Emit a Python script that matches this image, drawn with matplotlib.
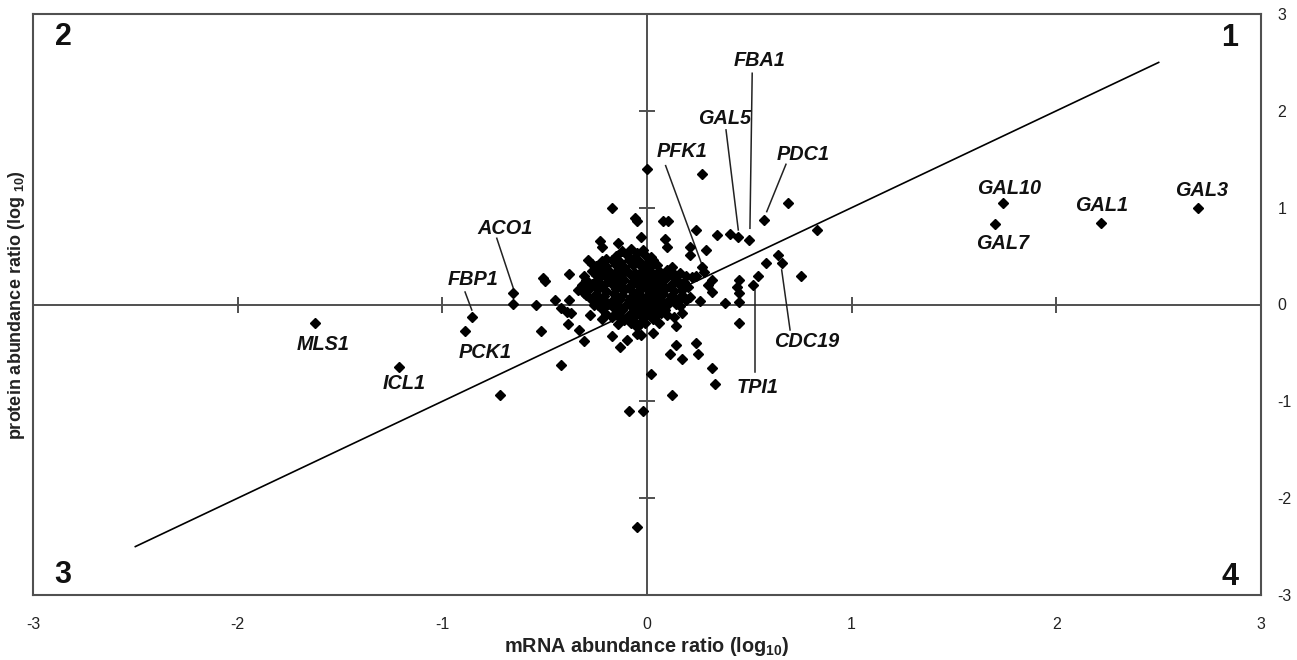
import matplotlib
matplotlib.use('Agg')
import matplotlib.pyplot as plt

plt.rcParams['font.family'] = ['Liberation Sans', 'DejaVu Sans']
plt.rcParams['axes.unicode_minus'] = False
plt.rcParams['mathtext.fontset'] = 'custom'
plt.rcParams['mathtext.rm'] = 'Liberation Sans:bold'
plt.rcParams['mathtext.it'] = 'Liberation Sans:bold:italic'
plt.rcParams['mathtext.bf'] = 'Liberation Sans:bold'

# ---- data: log10 ratios (mRNA, protein) ----
mrna = [0.00, 0.27, -0.17, 0.69, -0.06, -0.05, -0.03, 0.08, 0.105, 0.09, 0.10, 0.24, 0.34, 0.405,
        0.446, 0.50, 0.57, 0.83, 0.21, 0.21, 0.29, 0.64, 0.66, 0.58, 0.75, 0.54, 0.52, 0.45, 0.44,
        0.45, 0.38, 0.45, 0.32, 0.30, 0.32, 0.26, 0.27, 0.24, 0.22, 0.45, 0.14, 0.14, 0.11, 0.17,
        0.24, 0.25, 0.32, 0.33, 0.12, 0.02, -0.09, -0.02, -0.05, -0.72, -1.21, -1.62, -0.857, -0.89,
        -0.653, -0.653, -0.54, -0.52, -0.42, -0.31, -0.33, -0.385, -0.51, -0.50, -0.38, -0.31, -0.45,
        -0.38, -0.42, -0.39, -0.37, -0.23, -0.22, -0.14, -0.20, -0.29, -0.27, -0.25, -0.17, -0.17,
        -0.13, -0.10, -0.05, -0.03, 0.03, -0.26, -0.28, 0.10, 0.13, 0.17, 0.16, 0.12, 0.15, -0.11,
        -0.08, -0.05, -0.01, -0.335, -0.31, -0.21, -0.18, 0.28,
        1.74, 1.70, 2.216, 2.69]
protein = [1.40, 1.35, 1.00, 1.05, 0.89, 0.86, 0.70, 0.86, 0.86, 0.68, 0.59, 0.77, 0.72, 0.73,
           0.70, 0.67, 0.87, 0.77, 0.59, 0.51, 0.56, 0.51, 0.43, 0.43, 0.29, 0.29, 0.20, 0.25, 0.18,
           0.03, 0.02, 0.12, 0.25, 0.20, 0.13, 0.04, 0.39, 0.29, 0.28, -0.19, -0.22, -0.42, -0.51, -0.56,
           -0.40, -0.51, -0.66, -0.82, -0.93, -0.72, -1.10, -1.10, -2.30, -0.93, -0.65, -0.19, -0.13, -0.27,
           0.115, 0.01, 0.00, -0.27, -0.62, -0.38, -0.26, -0.20, 0.27, 0.24, 0.31, 0.29, 0.05,
           0.05, -0.04, -0.08, -0.09, 0.66, 0.59, 0.64, 0.47, 0.46, 0.42, 0.40, -0.13, -0.33,
           -0.44, -0.37, -0.30, -0.32, -0.29, -0.01, -0.11, -0.11, -0.13, -0.09, -0.02, 0.29, 0.24, -0.16,
           -0.19, -0.23, -0.19, 0.15, 0.115, 0.05, 0.01, 0.34,
           1.045, 0.83, 0.845, 1.00]

# dense central cluster
core_mrna = [-0.12, -0.08, -0.05, -0.02,
             -0.15, -0.10, -0.06, -0.01, 0.02,
             -0.22, -0.17, -0.13, -0.09, -0.04, 0.00, 0.03,
             -0.20, -0.15, -0.11, -0.07, -0.03, 0.01, 0.05, 0.12,
             -0.27, -0.23, -0.18, -0.14, -0.10, -0.06, -0.02, 0.02, 0.06, 0.10, 0.16,
             -0.25, -0.21, -0.16, -0.12, -0.08, -0.04, 0.00, 0.04, 0.08, 0.13, 0.19,
             -0.30, -0.24, -0.19, -0.15, -0.11, -0.07, -0.03, 0.01, 0.05, 0.09, 0.14, 0.18,
             -0.32, -0.27, -0.22, -0.17, -0.13, -0.09, -0.05, -0.01, 0.03, 0.07, 0.11, 0.16, 0.20,
             -0.29, -0.24, -0.20, -0.15, -0.11, -0.07, -0.03, 0.01, 0.05, 0.09, 0.13, 0.17,
             -0.30, -0.25, -0.21, -0.16, -0.12, -0.08, -0.04, 0.00, 0.04, 0.08, 0.12, 0.17, 0.21,
             -0.27, -0.22, -0.17, -0.13, -0.09, -0.05, -0.01, 0.03, 0.07, 0.11, 0.15, 0.19,
             -0.24, -0.19, -0.14, -0.10, -0.06, -0.02, 0.02, 0.06, 0.10, 0.14,
             -0.22, -0.16, -0.12, -0.07, -0.03, 0.01, 0.05, 0.09,
             -0.20, -0.15, -0.09, -0.05, 0.00, 0.04, 0.07,
             -0.22, -0.13, -0.07, -0.02, 0.03,
             -0.14, -0.04, 0.06]
core_protein = [0.55, 0.57, 0.53, 0.56,
                0.50, 0.51, 0.48, 0.51, 0.49,
                0.45, 0.46, 0.44, 0.46, 0.45, 0.43, 0.46,
                0.40, 0.41, 0.39, 0.41, 0.40, 0.38, 0.41, 0.39,
                0.35, 0.36, 0.34, 0.36, 0.35, 0.33, 0.36, 0.34, 0.35, 0.36, 0.33,
                0.30, 0.31, 0.29, 0.31, 0.30, 0.28, 0.31, 0.29, 0.30, 0.31, 0.29,
                0.25, 0.26, 0.24, 0.26, 0.25, 0.23, 0.26, 0.24, 0.25, 0.26, 0.24, 0.23,
                0.20, 0.21, 0.19, 0.21, 0.20, 0.18, 0.21, 0.19, 0.20, 0.21, 0.19, 0.20, 0.18,
                0.15, 0.16, 0.14, 0.16, 0.15, 0.13, 0.16, 0.14, 0.15, 0.16, 0.14, 0.15,
                0.10, 0.11, 0.09, 0.11, 0.10, 0.08, 0.11, 0.09, 0.10, 0.11, 0.09, 0.10, 0.08,
                0.05, 0.06, 0.04, 0.06, 0.05, 0.03, 0.06, 0.04, 0.05, 0.06, 0.04, 0.05,
                0.00, 0.01, -0.01, 0.01, 0.00, -0.02, 0.01, -0.01, 0.00, 0.01,
                -0.05, -0.04, -0.06, -0.04, -0.05, -0.07, -0.04, -0.06,
                -0.10, -0.09, -0.11, -0.09, -0.10, -0.12, -0.09,
                -0.15, -0.14, -0.16, -0.14, -0.15,
                -0.20, -0.21, -0.19]

# regression / identity line
fit_x = [-2.5, 2.5]
fit_y = [-2.5, 2.5]

# gene labels
genes = ['FBA1', 'GAL5', 'PFK1', 'PDC1', 'ACO1', 'FBP1', 'MLS1', 'ICL1', 'PCK1',
         'CDC19', 'TPI1', 'GAL10', 'GAL7', 'GAL1', 'GAL3']
label_x = [0.552, 0.381, 0.171, 0.762, -0.694, -0.85, -1.583, -1.187, -0.791,
           0.78, 0.542, 1.768, 1.739, 2.223, 2.711]
label_y = [2.515, 1.916, 1.575, 1.544, 0.78, 0.263, -0.408, -0.811, -0.50,
           -0.387, -0.852, 1.203, 0.625, 1.018, 1.173]

# leader lines (x0, x1, y0, y1)
leader_genes = ['FBA1', 'GAL5', 'PFK1', 'PDC1', 'ACO1', 'FBP1', 'CDC19', 'TPI1']
leader_x0 = [0.514, 0.386, 0.091, 0.679, -0.734, -0.889, 0.658, 0.528]
leader_x1 = [0.503, 0.446, 0.272, 0.585, -0.653, -0.856, 0.699, 0.528]
leader_y0 = [2.388, 1.803, 1.434, 1.448, 0.684, 0.129, 0.357, 0.15]
leader_y1 = [0.787, 0.77, 0.39, 0.959, 0.167, -0.057, -0.263, -0.697]

quadrants = ['1', '2', '3', '4']
quad_x = [2.848, -2.853, -2.853, 2.848]
quad_y = [2.753, 2.763, -2.794, -2.815]

ticks = [-3, -2, -1, 0, 1, 2, 3]
inner_ticks = [-2, -1, 1, 2]

# ---- figure ----
fig = plt.figure(figsize=(12.97, 6.6), dpi=100)
ax = fig.add_axes([33 / 1297, 65 / 660, 1228 / 1297, 581 / 660])
ax.set_xlim(-3, 3)
ax.set_ylim(-3, 3)

frame_col = '#505050'
for s in ax.spines.values():
    s.set_color(frame_col)
    s.set_linewidth(1.5)

ax.axhline(0, color=frame_col, lw=1.4, zorder=1)
ax.axvline(0, color=frame_col, lw=1.4, zorder=1)
ax.plot(inner_ticks, [0] * len(inner_ticks), ls='none', marker='|', ms=12,
        mew=1.4, color=frame_col, zorder=1)
ax.plot([0] * len(inner_ticks), inner_ticks, ls='none', marker='_', ms=12,
        mew=1.4, color=frame_col, zorder=1)

ax.plot(fit_x, fit_y, color='black', lw=1.2, zorder=2)

ax.plot(core_mrna, core_protein, ls='none', marker='D', ms=5.4, color='black', zorder=3)
ax.plot(mrna, protein, ls='none', marker='D', ms=5.4, color='black', zorder=3)

for i in range(len(leader_genes)):
    ax.plot([leader_x0[i], leader_x1[i]], [leader_y0[i], leader_y1[i]],
            color='#222222', lw=1.1, zorder=2)

for g, x, y in zip(genes, label_x, label_y):
    ax.text(x, y, g, ha='center', va='center', fontsize=14.3, fontweight='bold',
            fontstyle='italic', color='#111111', zorder=4)

for q, x, y in zip(quadrants, quad_x, quad_y):
    ax.text(x, y, q, ha='center', va='center', fontsize=22, fontweight='bold', color='#111111')

ax.set_xticks(ticks)
ax.set_xticklabels([str(t) for t in ticks])
ax.set_yticks(ticks)
ax.set_yticklabels([str(t) for t in ticks])
ax.yaxis.tick_right()
ax.tick_params(axis='x', length=0, pad=16, labelsize=11.5, labelcolor='#222222')
ax.tick_params(axis='y', length=0, pad=12, labelsize=11.5, labelcolor='#222222')

fig.text(0.4988, 0.020, r'mRNA abundance ratio (log$_{10}$)', ha='center', va='center',
         fontsize=14.3, fontweight='bold', color='#222222')
fig.text(17 / 1297, 0.538, r'protein abundance ratio (log $_{10}$)', ha='center', va='center',
         rotation=90, fontsize=13, fontweight='bold', color='#222222')

fig.savefig('out.png', dpi=100)
